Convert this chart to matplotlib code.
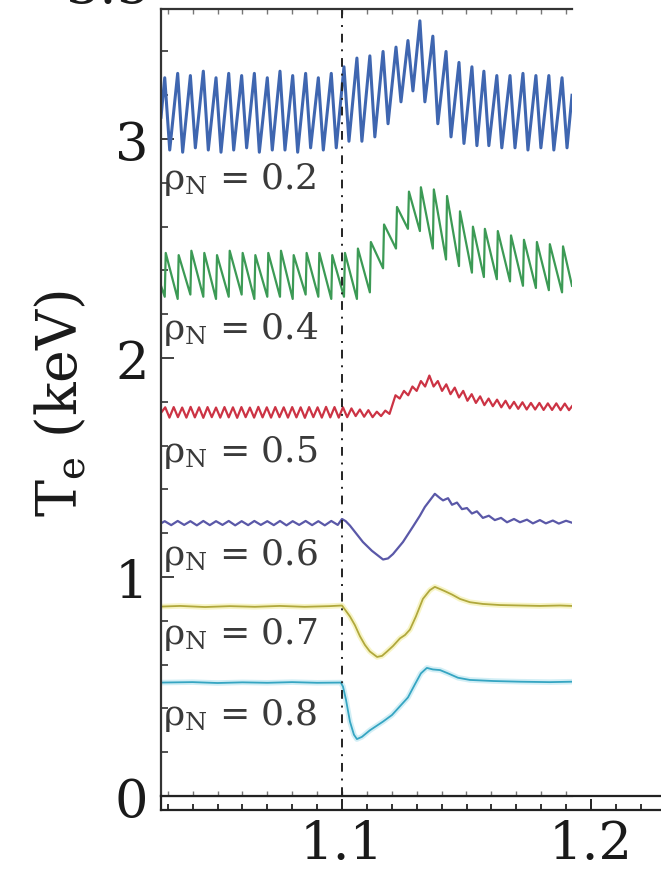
import matplotlib
matplotlib.use("Agg")
import matplotlib.pyplot as plt
from matplotlib.ticker import MultipleLocator, FormatStrFormatter

plt.rcParams["font.family"] = "DejaVu Serif"
plt.rcParams["mathtext.fontset"] = "dejavuserif"

T_START, T_END = 1.0273, 1.1924

# sawtooth crash times (s), shared by the two core channels
crash_t = [1.0288, 1.0340, 1.0391, 1.0443, 1.0494, 1.0545, 1.0597, 1.0648,
           1.0700, 1.0751, 1.0802, 1.0854, 1.0905, 1.0957, 1.1008, 1.1060,
           1.1112, 1.1165, 1.1217, 1.1265, 1.1313, 1.1365, 1.1418, 1.1470,
           1.1522, 1.1570, 1.1622, 1.1675, 1.1727, 1.1779, 1.1831, 1.1884]

# rho_N = 0.2 : Te just before / just after each crash (keV)
blue_pre = [3.28, 3.30, 3.29, 3.31, 3.28, 3.30, 3.29, 3.30, 3.28, 3.31, 3.29,
            3.30, 3.28, 3.30, 3.33, 3.37, 3.38, 3.40, 3.42, 3.45, 3.54, 3.47,
            3.40, 3.35, 3.33, 3.31, 3.29, 3.29, 3.30, 3.29, 3.29, 3.28]
blue_post = [2.95, 2.94, 2.96, 2.95, 2.94, 2.95, 2.96, 2.94, 2.95, 2.95, 2.94,
             2.96, 2.95, 2.96, 2.99, 2.99, 3.01, 3.07, 3.17, 3.22, 3.17, 3.07,
             3.01, 2.98, 2.97, 2.97, 2.96, 2.96, 2.95, 2.96, 2.95, 2.96]
blue_ends = (3.10, 3.20)

# rho_N = 0.4 : heat pulse, trough before / peak after each crash
green_pre = [2.28, 2.27, 2.29, 2.28, 2.27, 2.28, 2.29, 2.27, 2.28, 2.28, 2.27,
             2.29, 2.28, 2.27, 2.28, 2.27, 2.30, 2.41, 2.50, 2.59, 2.58, 2.50,
             2.45, 2.42, 2.39, 2.37, 2.36, 2.35, 2.33, 2.32, 2.31, 2.30]
green_post = [2.48, 2.47, 2.49, 2.48, 2.47, 2.49, 2.48, 2.47, 2.48, 2.49, 2.47,
              2.48, 2.48, 2.47, 2.48, 2.50, 2.53, 2.61, 2.69, 2.76, 2.78, 2.77,
              2.74, 2.67, 2.60, 2.59, 2.58, 2.56, 2.54, 2.53, 2.52, 2.51]
green_ends = (2.33, 2.33)

# rho_N = 0.5
red_t = [1.0273, 1.0290, 1.0307, 1.0324, 1.0341, 1.0358, 1.0375, 1.0392,
         1.0409, 1.0426, 1.0443, 1.0460, 1.0477, 1.0494, 1.0511, 1.0528,
         1.0545, 1.0562, 1.0579, 1.0596, 1.0613, 1.0630, 1.0647, 1.0664,
         1.0681, 1.0698, 1.0715, 1.0732, 1.0749, 1.0766, 1.0783, 1.0800,
         1.0817, 1.0834, 1.0851, 1.0868, 1.0885, 1.0902, 1.0919, 1.0936,
         1.0953, 1.0970, 1.0987, 1.1004, 1.1021, 1.1038, 1.1055, 1.1072,
         1.1089, 1.1106, 1.1123, 1.1140, 1.1157, 1.1174, 1.1191, 1.1215,
         1.1232, 1.1249, 1.1266, 1.1283, 1.1300, 1.1317, 1.1334, 1.1351,
         1.1368, 1.1385, 1.1402, 1.1419, 1.1436, 1.1453, 1.1470, 1.1487,
         1.1504, 1.1521, 1.1538, 1.1555, 1.1572, 1.1589, 1.1606, 1.1623,
         1.1640, 1.1657, 1.1674, 1.1691, 1.1708, 1.1725, 1.1742, 1.1759,
         1.1776, 1.1793, 1.1810, 1.1827, 1.1844, 1.1861, 1.1878, 1.1895,
         1.1912, 1.1924]
red_te = [1.750, 1.775, 1.728, 1.776, 1.730, 1.774, 1.728, 1.777,
          1.729, 1.775, 1.727, 1.776, 1.730, 1.774, 1.728, 1.776,
          1.729, 1.775, 1.727, 1.776, 1.730, 1.774, 1.728, 1.777,
          1.729, 1.775, 1.728, 1.776, 1.730, 1.775, 1.728, 1.776,
          1.729, 1.775, 1.727, 1.776, 1.730, 1.775, 1.728, 1.777,
          1.729, 1.776, 1.728, 1.775, 1.730, 1.770, 1.735, 1.765,
          1.732, 1.762, 1.730, 1.755, 1.735, 1.760, 1.745, 1.830,
          1.815, 1.850, 1.830, 1.870, 1.850, 1.895, 1.870, 1.920,
          1.870, 1.895, 1.850, 1.880, 1.835, 1.865, 1.820, 1.850,
          1.805, 1.835, 1.795, 1.825, 1.785, 1.815, 1.780, 1.810,
          1.775, 1.805, 1.770, 1.800, 1.768, 1.798, 1.765, 1.795,
          1.765, 1.795, 1.763, 1.793, 1.763, 1.793, 1.762, 1.792,
          1.762, 1.780]

# rho_N = 0.6
purple_t = [1.0273, 1.0288, 1.0314, 1.0340, 1.0366, 1.0391, 1.0417, 1.0443,
            1.0469, 1.0494, 1.0520, 1.0545, 1.0571, 1.0597, 1.0623, 1.0648,
            1.0674, 1.0700, 1.0726, 1.0751, 1.0777, 1.0802, 1.0828, 1.0854,
            1.0880, 1.0905, 1.0931, 1.0957, 1.0983, 1.1000, 1.1015, 1.1032,
            1.1084, 1.1120, 1.1165, 1.1185, 1.1205, 1.1245, 1.1285, 1.1313,
            1.1333, 1.1353, 1.1373, 1.1394, 1.1406, 1.1426, 1.1442, 1.1462,
            1.1482, 1.1502, 1.1522, 1.1542, 1.1566, 1.1590, 1.1614, 1.1639,
            1.1663, 1.1691, 1.1715, 1.1743, 1.1767, 1.1795, 1.1819, 1.1847,
            1.1871, 1.1900, 1.1924]
purple_te = [1.245, 1.255, 1.237, 1.256, 1.238, 1.255, 1.236, 1.256,
             1.237, 1.255, 1.238, 1.256, 1.236, 1.255, 1.237, 1.256,
             1.238, 1.255, 1.237, 1.256, 1.236, 1.255, 1.238, 1.256,
             1.237, 1.255, 1.236, 1.256, 1.238, 1.265, 1.255, 1.235,
             1.160, 1.120, 1.080, 1.085, 1.105, 1.160, 1.230, 1.280,
             1.320, 1.350, 1.380, 1.360, 1.350, 1.360, 1.330, 1.340,
             1.310, 1.315, 1.290, 1.300, 1.270, 1.280, 1.260, 1.270,
             1.250, 1.265, 1.250, 1.262, 1.245, 1.260, 1.245, 1.258,
             1.244, 1.257, 1.248]

# rho_N = 0.7
yellow_t = [1.0273, 1.0350, 1.0450, 1.0550, 1.0650, 1.0750, 1.0850, 1.0950,
            1.1000, 1.1032, 1.1052, 1.1072, 1.1092, 1.1112, 1.1141, 1.1161,
            1.1181, 1.1205, 1.1233, 1.1253, 1.1273, 1.1297, 1.1325, 1.1353,
            1.1373, 1.1394, 1.1414, 1.1442, 1.1474, 1.1514, 1.1566, 1.1635,
            1.1715, 1.1795, 1.1876, 1.1924]
yellow_te = [0.865, 0.868, 0.863, 0.867, 0.864, 0.868, 0.864, 0.867,
             0.870, 0.820, 0.780, 0.730, 0.690, 0.660, 0.635, 0.640,
             0.660, 0.685, 0.720, 0.735, 0.760, 0.820, 0.900, 0.940,
             0.955, 0.945, 0.935, 0.920, 0.900, 0.885, 0.877, 0.872,
             0.870, 0.868, 0.870, 0.868]

# rho_N = 0.8
cyan_t = [1.0273, 1.0400, 1.0500, 1.0600, 1.0700, 1.0800, 1.0900, 1.0995,
          1.1004, 1.1016, 1.1032, 1.1048, 1.1060, 1.1080, 1.1112, 1.1165,
          1.1201, 1.1233, 1.1265, 1.1293, 1.1317, 1.1341, 1.1365, 1.1394,
          1.1426, 1.1466, 1.1514, 1.1610, 1.1715, 1.1835, 1.1924]
cyan_te = [0.518, 0.520, 0.516, 0.519, 0.517, 0.520, 0.517, 0.518,
           0.500, 0.440, 0.340, 0.280, 0.260, 0.270, 0.300, 0.340,
           0.370, 0.410, 0.450, 0.510, 0.560, 0.585, 0.578, 0.575,
           0.560, 0.540, 0.530, 0.525, 0.522, 0.520, 0.522]

rho_labels = ["0.2", "0.4", "0.5", "0.6", "0.7", "0.8"]
label_te = [2.822, 2.137, 1.575, 1.105, 0.740, 0.374]

T_MARK = 1.1


def sawtooth(pre, post, ends, dur):
    """Vertex list of a sawtooth trace from its crash times."""
    t, v = [T_START], [ends[0]]
    for tc, a, b in zip(crash_t, pre, post):
        t += [tc, tc + dur]
        v += [a, b]
    t.append(T_END)
    v.append(ends[1])
    return t, v


W, H = 661, 870
fig = plt.figure(figsize=(W / 100, H / 100), dpi=100)

# main panel
ax = fig.add_axes([161 / W, 1 - 797 / H, 411 / W, 787 / H])
ax.set_xlim(T_START, T_END)
ax.set_ylim(0, 3.594)

bt, bv = sawtooth(blue_pre, blue_post, blue_ends, 0.0020)
gt, gv = sawtooth(green_pre, green_post, green_ends, 0.0004)
ax.plot(bt, bv, color="#3f66b0", lw=2.2)
ax.plot(gt, gv, color="#3c9a55", lw=1.6)
ax.plot(red_t, red_te, color="#cc3344", lw=1.6)
ax.plot(purple_t, purple_te, color="#5a58a8", lw=1.6)
ax.plot(yellow_t, yellow_te, color="#f2eea0", lw=4.0, alpha=0.6)
ax.plot(yellow_t, yellow_te, color="#b0a83c", lw=1.3)
ax.plot(cyan_t, cyan_te, color="#bfe8f2", lw=4.0, alpha=0.7)
ax.plot(cyan_t, cyan_te, color="#35a5c2", lw=1.3)

ax.axvline(T_MARK, color="#222222", lw=1.4, dashes=(4.5, 3.5, 1, 3.5))

for lab, y in zip(rho_labels, label_te):
    ax.text(1.0281, y, "ρ$_{\\mathrm{N}}$ = " + lab, fontsize=26,
            color="#3a3a3a", ha="left", va="center")

for side in ("left", "top"):
    ax.spines[side].set_color("#333333")
    ax.spines[side].set_linewidth(1.6)
ax.spines["right"].set_visible(False)
ax.spines["bottom"].set_color("#9a9a9a")
ax.spines["bottom"].set_linewidth(0.9)

ax.xaxis.set_major_locator(MultipleLocator(0.01))
ax.tick_params(axis="x", which="major", direction="in", length=3.5,
               width=1.0, color="#777777", top=True, bottom=True,
               labelbottom=False)
ax.yaxis.set_major_locator(MultipleLocator(1))
ax.yaxis.set_minor_locator(MultipleLocator(0.2))
ax.tick_params(axis="y", which="major", direction="in", length=9,
               width=1.3, color="#333333", labelsize=38, pad=9,
               labelcolor="#1a1a1a")
ax.tick_params(axis="y", which="minor", direction="in", length=5,
               width=1.2, color="#333333")
ax.set_ylabel("T$_{\\mathrm{e}}$ (keV)", fontsize=40, color="#1a1a1a",
              labelpad=18)

# tick label above the panel, mostly outside the figure
fig.text(150 / W, 1 + 12 / H, "3.5", fontsize=38, color="#1a1a1a",
         ha="right", va="center")

# time axis strip under the panel
ax2 = fig.add_axes([161 / W, 1 - 811 / H, 540 / W, 14 / H])
ax2.set_xlim(T_START, T_START + 540 / 2490)
ax2.set_ylim(0, 1)
ax2.set_yticks([])
ax2.patch.set_alpha(0)
for side in ("left", "top", "bottom"):
    ax2.spines[side].set_color("#222222")
    ax2.spines[side].set_linewidth(1.6)
ax2.spines["right"].set_visible(False)
ax2.xaxis.set_major_locator(MultipleLocator(0.1))
ax2.xaxis.set_minor_locator(MultipleLocator(0.01))
ax2.xaxis.set_major_formatter(FormatStrFormatter("%.1f"))
ax2.tick_params(axis="x", which="major", direction="in", length=8,
                width=1.4, color="#222222", labelsize=38, pad=6,
                labelcolor="#1a1a1a")
ax2.tick_params(axis="x", which="minor", direction="in", length=4.5,
                width=1.3, color="#222222")

fig.savefig("out.png", dpi=100)
